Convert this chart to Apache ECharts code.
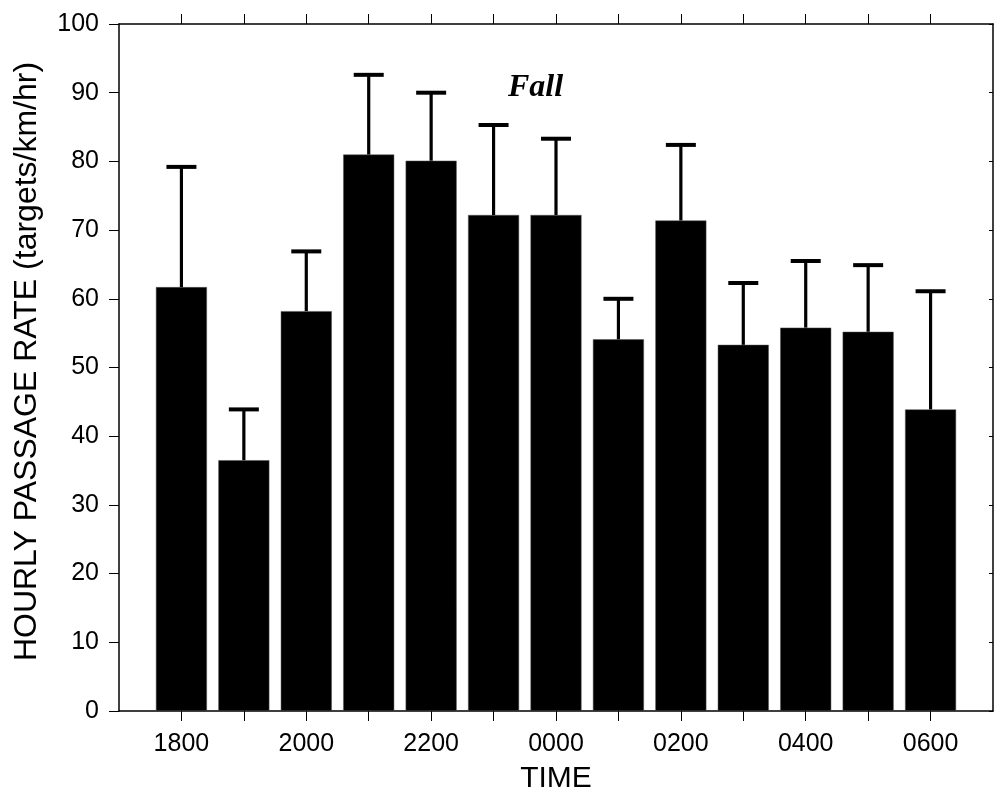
<!DOCTYPE html>
<html>
<head>
<meta charset="utf-8">
<script src="https://cdn.jsdelivr.net/npm/echarts@6/dist/echarts.min.js"></script>
<style>html,body{margin:0;padding:0;background:#fff}#c{width:995px;height:799px}</style>
</head>
<body>
<div id="c"></div>
<script>
const categories = ['1800','1900','2000','2100','2200','2300','0000','0100','0200','0300','0400','0500','0600'];
const rates = [61.7, 36.5, 58.2, 81.0, 80.1, 72.2, 72.2, 54.1, 71.4, 53.3, 55.8, 55.2, 43.9];
const errors = [17.5, 7.4, 8.7, 11.6, 9.9, 13.1, 11.1, 5.9, 11.0, 9.0, 9.7, 9.7, 17.2];
const yTicks = [0,10,20,30,40,50,60,70,80,90,100];
const labelledIdx = [0,2,4,6,8,10,12];
const tickIdx = categories.map((c,i)=>i);

const chart = echarts.init(document.getElementById('c'), null, {renderer:'canvas'});
const FONT = 'Liberation Sans, Arial, sans-serif';
const axisLine = {show:true, onZero:false, lineStyle:{color:'#000', width:1.5}};

chart.setOption({
  animation:false,
  backgroundColor:'#fff',
  grid:{left:119, right:2, top:24, bottom:86, containLabel:false},
  graphic:[{
    type:'text', x:508, y:88,
    style:{text:'Fall', font:'italic bold 32px "Liberation Serif", "Times New Roman", serif', fill:'#000', verticalAlign:'middle', align:'left'}
  }],
  xAxis:[{
    type:'value', min:-1, max:13, position:'bottom',
    axisLine:axisLine,
    axisTick:{show:true, customValues:tickIdx, length:10, inside:false, lineStyle:{color:'#000', width:1}},
    axisLabel:{show:true, customValues:labelledIdx, formatter:v=>categories[v], fontSize:25, fontFamily:FONT, color:'#000', margin:21},
    splitLine:{show:false},
    name:'TIME', nameLocation:'middle', nameGap:53,
    nameTextStyle:{fontSize:30, fontFamily:FONT, color:'#000'}
  },{
    type:'value', min:-1, max:13, position:'top',
    axisLine:axisLine,
    axisTick:{show:true, customValues:tickIdx, length:10, inside:false, lineStyle:{color:'#000', width:1}},
    axisLabel:{show:false},
    splitLine:{show:false}
  }],
  yAxis:[{
    type:'value', min:0, max:100, interval:10, position:'left',
    axisLine:axisLine,
    axisTick:{show:true, length:10, inside:false, lineStyle:{color:'#000', width:1}},
    axisLabel:{fontSize:25, fontFamily:FONT, color:'#000', margin:20, formatter:v=>yTicks.includes(v)?String(v):''},
    splitLine:{show:false},
    name:'HOURLY PASSAGE RATE (targets/km/hr)', nameLocation:'middle', nameGap:76, nameRotate:90,
    nameTextStyle:{fontSize:32, fontFamily:FONT, color:'#000', padding:[0,0,0,12]}
  },{
    type:'value', min:0, max:100, interval:10, position:'right',
    axisLine:axisLine,
    axisTick:{show:true, length:4, inside:true, lineStyle:{color:'#000', width:1}},
    axisLabel:{show:false},
    splitLine:{show:false}
  }],
  series:[{
    type:'bar',
    xAxisIndex:0, yAxisIndex:0,
    data:rates.map((v,i)=>[i,v]),
    barWidth:51,
    itemStyle:{color:'#000', borderColor:'#555', borderWidth:0.5},
    z:2
  },{
    type:'custom',
    xAxisIndex:0, yAxisIndex:0,
    data:rates.map((v,i)=>[i,v,v+errors[i]]),
    z:5,
    renderItem:function(params, api){
      const base = api.coord([api.value(0), api.value(1)]);
      const top = api.coord([api.value(0), api.value(2)]);
      return {type:'group', children:[
        {type:'line', shape:{x1:base[0], y1:base[1], x2:top[0], y2:top[1]}, style:{stroke:'#000', lineWidth:3.2}},
        {type:'line', shape:{x1:top[0]-15, y1:top[1], x2:top[0]+15, y2:top[1]}, style:{stroke:'#000', lineWidth:4}}
      ]};
    }
  }]
});
</script>
</body>
</html>
